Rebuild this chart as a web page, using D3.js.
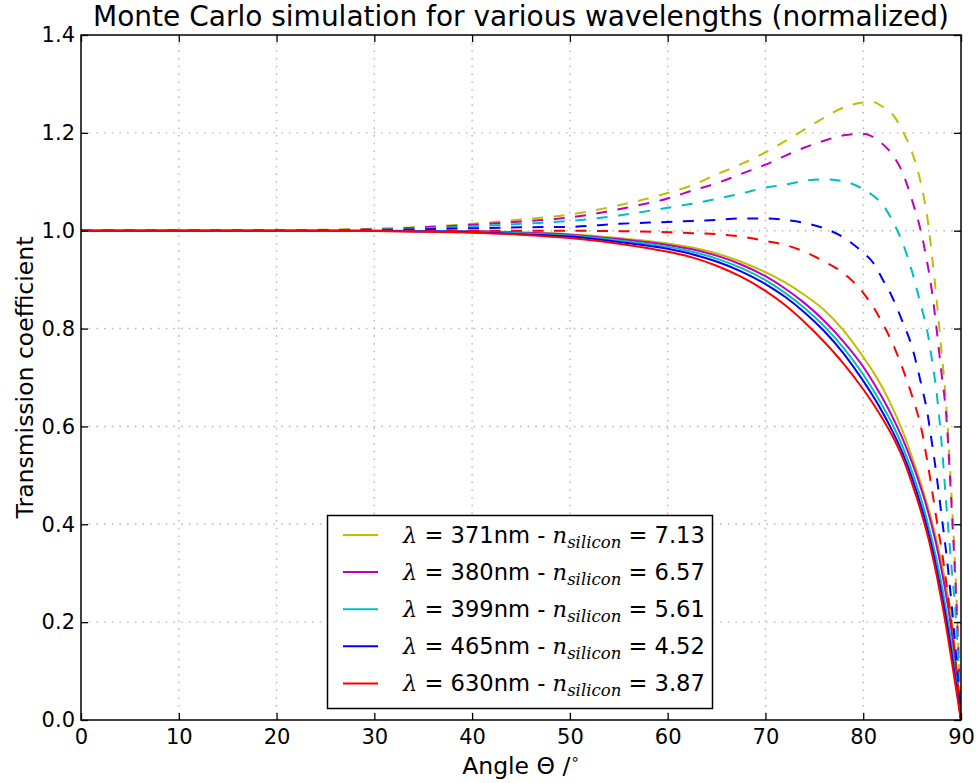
<!DOCTYPE html>
<html><head><meta charset="utf-8">
<script src="https://cdn.jsdelivr.net/npm/d3@7"></script>
<style>body{margin:0;background:#fff} svg{display:block}</style>
</head><body><svg id="c" width="980" height="783"></svg>
<script>
// ---- data ----
const angles = [0,10,20,30,35,40,45,50,55,60,62.5,65,67.5,70,72,74,76,78,80,81,82,83,84,85,86,86.5,87,87.5,88,88.5,89,89.5,90];
const wavelengths = ["371","380","399","465","630"];
const nSilicon = ["7.13","6.57","5.61","4.52","3.87"];
// solid curves
const solid371 = [1,1,1,1,0.9995,0.999,0.997,0.993,0.985,0.974,0.9655,0.9535,0.9365,0.9152,0.8942,0.8686,0.838,0.796,0.742,0.712,0.678,0.638,0.592,0.537,0.477,0.444,0.408,0.368,0.323,0.271,0.21,0.115,0];
const solid380 = [1,1,1,1,0.9995,0.999,0.996,0.992,0.983,0.971,0.962,0.949,0.931,0.907,0.882,0.852,0.816,0.773,0.722,0.691,0.657,0.619,0.576,0.526,0.468,0.435,0.398,0.356,0.308,0.253,0.188,0.10,0];
const solid399 = [1,1,1,1,0.999,0.998,0.995,0.990,0.980,0.967,0.957,0.943,0.924,0.899,0.873,0.842,0.805,0.760,0.706,0.675,0.641,0.604,0.560,0.507,0.446,0.410,0.371,0.327,0.279,0.222,0.16,0.085,0];
const solid465 = [1,1,1,0.9995,0.9985,0.997,0.993,0.988,0.977,0.963,0.952,0.937,0.917,0.891,0.865,0.833,0.795,0.749,0.693,0.662,0.628,0.590,0.547,0.494,0.431,0.395,0.355,0.309,0.259,0.204,0.142,0.072,0];
const solid630 = [1,1,1,0.9993,0.998,0.996,0.992,0.985,0.9735,0.957,0.9455,0.9285,0.906,0.877,0.848,0.813,0.773,0.728,0.676,0.647,0.615,0.58,0.538,0.483,0.42,0.384,0.343,0.297,0.245,0.189,0.127,0.063,0];
// dashed curves
const dashed371 = [1,1,1.001,1.004,1.008,1.014,1.023,1.033,1.052,1.077,1.093,1.115,1.136,1.16,1.183,1.207,1.231,1.252,1.262,1.263,1.253,1.238,1.205,1.16,1.088,1.035,0.955,0.86,0.755,0.64,0.47,0.27,0];
const dashed380 = [1,1,1.0005,1.003,1.007,1.012,1.019,1.027,1.044,1.066,1.082,1.097,1.116,1.135,1.153,1.17,1.184,1.195,1.198,1.192,1.177,1.155,1.12,1.062,0.99,0.94,0.88,0.80,0.71,0.62,0.45,0.25,0];
const dashed399 = [1,1,1.0003,1.002,1.005,1.009,1.014,1.020,1.031,1.047,1.055,1.065,1.076,1.088,1.094,1.102,1.105,1.101,1.085,1.072,1.053,1.02,0.977,0.916,0.84,0.80,0.74,0.67,0.57,0.44,0.32,0.2,0];
const dashed465 = [1,1,1,1.001,1.003,1.005,1.007,1.008,1.014,1.018,1.020,1.022,1.025,1.025,1.022,1.016,1.005,0.986,0.955,0.935,0.90,0.863,0.815,0.762,0.68,0.635,0.57,0.50,0.42,0.34,0.245,0.13,0];
const dashed630 = [1,1,1,1,1,1,1,1,0.999,0.997,0.995,0.993,0.988,0.979,0.971,0.957,0.937,0.913,0.873,0.845,0.81,0.77,0.72,0.662,0.59,0.535,0.475,0.41,0.35,0.28,0.2,0.11,0];
const xTicks = [0,10,20,30,40,50,60,70,80,90];
const yTicks = [0,0.2,0.4,0.6,0.8,1.0,1.2,1.4];
const titleText = "Monte Carlo simulation for various wavelengths (normalized)";

// ---- styles ----
const colors = ["#bfbf00","#bf00bf","#00bfbf","#0000ff","#ff0000"];
const solids = [solid371, solid380, solid399, solid465, solid630];
const dasheds = [dashed371, dashed380, dashed399, dashed465, dashed630];

const L = 81, R = 961, T = 35, B = 720;
const svg = d3.select("#c");
svg.append("rect").attr("width",980).attr("height",783).attr("fill","#fff");
const x = d3.scaleLinear().domain([0,90]).range([L,R]);
const y = d3.scaleLinear().domain([0,1.4]).range([B,T]);
const font = "'DejaVu Sans', sans-serif";

// grid
const grid = svg.append("g").attr("stroke","#b4b4b4").attr("stroke-width",1.4).attr("stroke-dasharray","1.5,6.2");
xTicks.slice(1,-1).forEach(t => grid.append("line").attr("x1",x(t)).attr("x2",x(t)).attr("y1",T).attr("y2",B));
yTicks.slice(1,-1).forEach(t => grid.append("line").attr("y1",y(t)).attr("y2",y(t)).attr("x1",L).attr("x2",R));

// curves
svg.append("clipPath").attr("id","pc").append("rect").attr("x",L).attr("y",T).attr("width",R-L).attr("height",B-T);
const plot = svg.append("g").attr("clip-path","url(#pc)");
const line = d3.line().x((d,i)=>x(angles[i])).y(d=>y(d)).curve(d3.curveMonotoneX);
for (let k=0;k<5;k++){
  plot.append("path").attr("d",line(dasheds[k])).attr("fill","none").attr("stroke",colors[k])
    .attr("stroke-width",2).attr("stroke-dasharray","11,10.5");
  plot.append("path").attr("d",line(solids[k])).attr("fill","none").attr("stroke",colors[k])
    .attr("stroke-width",2);
}

// axes
const tk = 7;
const ax = svg.append("g").attr("transform",`translate(0,${B})`)
  .call(d3.axisBottom(x).tickValues(xTicks).tickSizeInner(-tk).tickSizeOuter(0).tickPadding(9).tickFormat(d3.format("d")));
const ay = svg.append("g").attr("transform",`translate(${L},0)`)
  .call(d3.axisLeft(y).tickValues(yTicks).tickSizeInner(-tk).tickSizeOuter(0).tickPadding(6).tickFormat(d3.format(".1f")));
const at = svg.append("g").attr("transform",`translate(0,${T})`)
  .call(d3.axisTop(x).tickValues(xTicks).tickSizeInner(-tk).tickSizeOuter(0).tickFormat(""));
const ar = svg.append("g").attr("transform",`translate(${R},0)`)
  .call(d3.axisRight(y).tickValues(yTicks).tickSizeInner(-tk).tickSizeOuter(0).tickFormat(""));
[ax,ay,at,ar].forEach(a=>{
  a.select(".domain").remove();
  a.selectAll(".tick line").attr("stroke","#000").attr("stroke-width",1.3);
  a.selectAll("text").attr("font-family",font).attr("font-size",21).attr("fill","#000");
});
svg.append("rect").attr("x",L).attr("y",T).attr("width",R-L).attr("height",B-T)
  .attr("fill","none").attr("stroke","#000").attr("stroke-width",1.5);

// title & labels
svg.append("text").attr("x",(L+R)/2).attr("y",26).attr("text-anchor","middle")
  .attr("font-family",font).attr("font-size",28).text(titleText);
const xl = svg.append("text").attr("x",(L+R)/2).attr("y",774).attr("text-anchor","middle")
  .attr("font-family",font).attr("font-size",23.5);
xl.append("tspan").text("Angle ");
xl.append("tspan").text("Θ");
xl.append("tspan").text(" /");
xl.append("tspan").attr("dy",-10).attr("font-size",15).text("∘");
svg.append("text").attr("transform",`translate(33,${(T+B)/2}) rotate(-90)`).attr("text-anchor","middle")
  .attr("font-family",font).attr("font-size",23.5).text("Transmission coefficient");

// legend
const lg = svg.append("g");
lg.append("rect").attr("x",327.5).attr("y",515.5).attr("width",385).attr("height",193)
  .attr("fill","#fff").attr("stroke","#000").attr("stroke-width",1.5);
const serif = "'DejaVu Serif', serif";
for (let k=0;k<5;k++){
  const ry = 535 + k*37.1;
  lg.append("line").attr("x1",343).attr("x2",378).attr("y1",ry).attr("y2",ry)
    .attr("stroke",colors[k]).attr("stroke-width",2);
  const t = lg.append("text").attr("x",403).attr("y",ry+8).attr("font-family",font).attr("font-size",22.6);
  t.append("tspan").attr("font-family",serif).attr("font-style","italic").text("λ");
  t.append("tspan").text(" = " + wavelengths[k] + "nm - ");
  t.append("tspan").attr("font-family",serif).attr("font-style","italic").text("n");
  t.append("tspan").attr("font-family",serif).attr("font-style","italic").attr("font-size",16.5).attr("dy",5).text("silicon");
  t.append("tspan").attr("dy",-5).text(" = " + nSilicon[k]);
}
</script></body></html>
